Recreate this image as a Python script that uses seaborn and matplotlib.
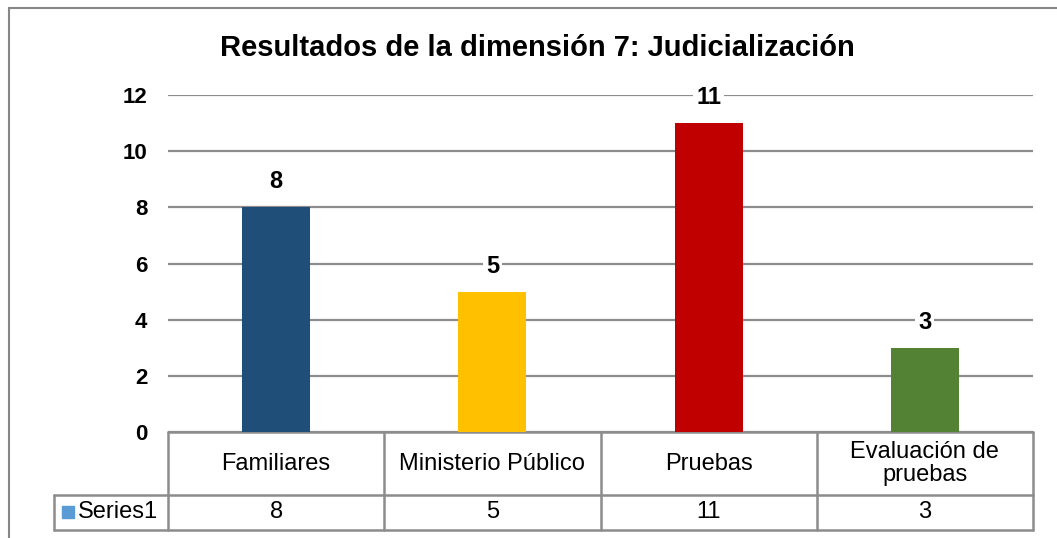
import matplotlib
matplotlib.use('Agg')
import matplotlib.pyplot as plt
import matplotlib.patches as mpatches
from matplotlib.lines import Line2D
import seaborn as sns
import pandas as pd

# data
categories = ['Familiares', 'Ministerio Público', 'Pruebas', 'Evaluación de\npruebas']
values = [8, 5, 11, 3]
bar_colors = ['#1F4E79', '#FFC000', '#C00000', '#548235']
series_name = 'Series1'
title = 'Resultados de la dimensión 7: Judicialización'

sns.set_style('white')
plt.rcParams['font.family'] = ['Liberation Sans', 'DejaVu Sans']
plt.rcParams['text.color'] = 'black'
plt.rcParams['ytick.color'] = 'black'

W, H = 1057, 538
fig = plt.figure(figsize=(W / 100, H / 100), dpi=100)
ax = fig.add_axes([168 / W, (H - 432) / H, 865 / W, 337 / H])

df = pd.DataFrame({'cat': categories, 'val': values})
sns.barplot(data=df, x='cat', y='val', hue='cat', palette=bar_colors,
            width=0.315, legend=False, ax=ax, saturation=1, zorder=3,
            linewidth=0)

ax.set_ylim(0, 12)
ax.set_xlim(-0.5, len(categories) - 0.5)
ax.set_yticks(range(0, 13, 2))
ax.set_yticklabels([str(v) for v in range(0, 13, 2)], fontsize=16, fontweight='bold')
ax.tick_params(axis='y', length=0, pad=15)
ax.set_xticks([])
ax.set_xlabel('')
ax.set_ylabel('')
for s in ax.spines.values():
    s.set_visible(False)
ax.grid(axis='y', color='#8c8c8c', linewidth=1.6, zorder=0)
ax.set_axisbelow(True)

# data labels
for c in ax.containers:
    ax.bar_label(c, padding=10, fontsize=17, fontweight='bold',
                 bbox=dict(facecolor='white', edgecolor='none', pad=2))

# data table under the chart
tr = ax.get_xaxis_transform()
gray = '#8c8c8c'
y_top, y_mid, y_bot = 0.0, -63 / 337, -98 / 337
x_left = -0.5 - 114 / 216.25
n = len(categories)
lines = [
    ([-0.5, n - 0.5], [y_top, y_top]),
    ([x_left, n - 0.5], [y_mid, y_mid]),
    ([x_left, n - 0.5], [y_bot, y_bot]),
    ([x_left, x_left], [y_mid, y_bot]),
]
for i in range(n + 1):
    lines.append(([i - 0.5, i - 0.5], [y_top, y_bot]))
for xs, ys in lines:
    ax.add_line(Line2D(xs, ys, transform=tr, color=gray, linewidth=1.8, clip_on=False))

for i, (cat, val) in enumerate(zip(categories, values)):
    ax.text(i, (y_top + y_mid) / 2, cat, transform=tr, ha='center', va='center',
            fontsize=17, linespacing=1.05)
    ax.text(i, (y_mid + y_bot) / 2, str(val), transform=tr, ha='center', va='center',
            fontsize=17)

fig.add_artist(mpatches.Rectangle((62 / W, (H - 518) / H), 12 / W, 12 / H,
                                  transform=fig.transFigure, color='#5B9BD5'))
fig.text(78 / W, (H - 512) / H, series_name, ha='left', va='center', fontsize=17)

# chart title and outer frame
fig.text(537 / W, (H - 48) / H, title, ha='center', va='center',
         fontsize=21, fontweight='bold')
fig.add_artist(mpatches.Rectangle((9 / W, -0.1), 1.2, (H - 8) / H + 0.1,
                                  transform=fig.transFigure, fill=False,
                                  edgecolor='#868686', linewidth=1.5))

fig.savefig('out.png', dpi=100)
